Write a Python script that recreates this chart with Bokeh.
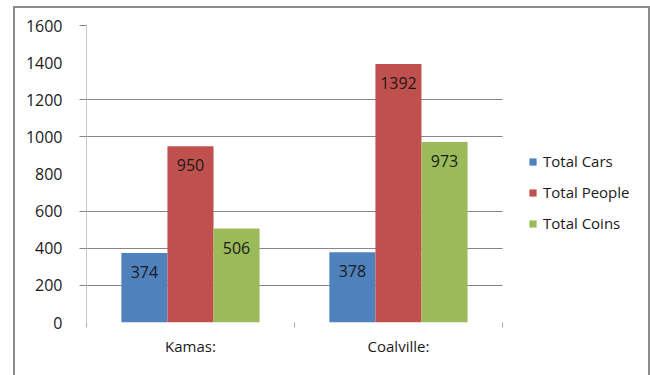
from bokeh.plotting import figure
from bokeh.models import ColumnDataSource, Range1d, FixedTicker, Legend, LegendItem
from bokeh.transform import dodge
from bokeh.core.properties import value
from bokeh.embed import file_html
from bokeh.resources import INLINE

# Chart data
categories = ["Kamas:", "Coalville:"]
series_names = ["Total Cars", "Total People", "Total Coins"]
total_cars = [374, 378]
total_people = [950, 1392]
total_coins = [506, 973]
y_ticks = [0, 200, 400, 600, 800, 1000, 1200, 1400, 1600]
grid_values = [200, 400, 600, 1000, 1200, 1600]

colors = ["#4F81BD", "#C0504D", "#9BBB59"]
FONT = "Open Sans"
TEXT = "#1a1a1a"

W, H = 633, 367
LEFT, TOP, BOTTOM = 71, 17, 55
BARS_WIDTH_PX = 413          # width taken by the bar groups; the rest holds the legend
n = len(categories)
x_end = n * (W - LEFT) / BARS_WIDTH_PX

centers = [i + 0.5 for i in range(n)]
src = ColumnDataSource(dict(
    x=centers,
    cars=total_cars, people=total_people, coins=total_coins,
    cars_t=[str(v) for v in total_cars],
    people_t=[str(v) for v in total_people],
    coins_t=[str(v) for v in total_coins],
))

p = figure(width=W, height=H, output_backend="svg", toolbar_location=None,
           x_range=Range1d(0, x_end), y_range=Range1d(0, 1600),
           min_border_left=LEFT, min_border_right=0, min_border_top=TOP,
           min_border_bottom=BOTTOM)
p.outline_line_color = None
p.background_fill_color = "white"
p.border_fill_color = "white"

# grey chart border around the whole figure (open at the bottom)
p.margin = (6, 0, 0, 13)
p.styles = {"box-sizing": "content-box",
            "border-left": "2px solid #8c8c8c",
            "border-top": "2px solid #8c8c8c",
            "border-right": "2px solid #8c8c8c"}

bw = 0.2215
offsets = [-bw, 0.0, bw]
cols = ["cars", "people", "coins"]
renderers = []
for off, col, c in zip(offsets, cols, colors):
    r = p.vbar(x=dodge("x", off), top=col, width=bw, bottom=0, source=src,
               fill_color=c, line_color=None)
    renderers.append(r)
    p.text(x=dodge("x", off), y=col, text=col + "_t", source=src,
           text_align="center", text_baseline="middle", y_offset=19,
           text_font=value(FONT), text_font_size="16px", text_color=TEXT)

# y axis
ya = p.yaxis[0]
ya.ticker = FixedTicker(ticks=y_ticks, minor_ticks=grid_values)
ya.axis_line_color = "#c8c8c8"
ya.major_tick_line_color = None
ya.major_tick_out = 0
ya.major_tick_in = 0
ya.minor_tick_line_color = "#868686"
ya.minor_tick_out = 7
ya.minor_tick_in = 0
ya.major_label_standoff = 17
ya.major_label_text_font = FONT
ya.major_label_text_font_size = "16px"
ya.major_label_text_color = TEXT

# x axis: category names centred, tick marks on category borders
xa = p.xaxis[0]
xa.ticker = FixedTicker(ticks=centers, minor_ticks=list(range(n + 1)))
xa.major_label_overrides = {c: name for c, name in zip(centers, categories)}
xa.axis_line_color = None
xa.major_tick_line_color = None
xa.major_tick_out = 0
xa.major_tick_in = 0
xa.minor_tick_line_color = "#a8a8a8"
xa.minor_tick_out = 5
xa.minor_tick_in = 0
xa.major_label_standoff = 8
xa.major_label_text_font = FONT
xa.major_label_text_font_size = "15px"
xa.major_label_text_color = TEXT

p.xgrid.grid_line_color = None
p.ygrid.ticker = FixedTicker(ticks=grid_values)
p.ygrid.cross_bounds = (0, n)
p.ygrid.grid_line_color = "#868686"
p.ygrid.grid_line_width = 1

legend = Legend(items=[LegendItem(label=s, renderers=[r]) for s, r in zip(series_names, renderers)],
                location=(442, 89), orientation="vertical",
                glyph_width=9, glyph_height=9, label_standoff=6, label_height=20,
                spacing=11, padding=0, margin=0, border_line_color=None,
                background_fill_alpha=0,
                label_text_font=FONT, label_text_font_size="15px",
                label_text_color=TEXT)
p.add_layout(legend, "center")

open("out.html", "w").write(file_html(p, INLINE))
